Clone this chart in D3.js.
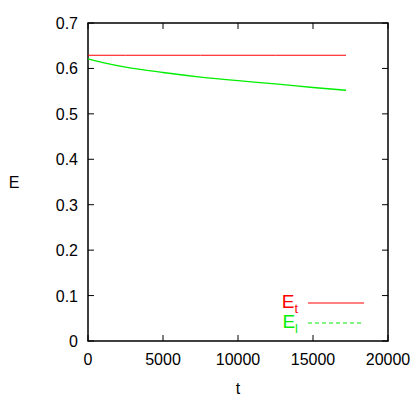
<!DOCTYPE html>
<html><head><meta charset="utf-8">
<script src="https://cdn.jsdelivr.net/npm/d3@7"></script>
<style>body{margin:0;background:#fff}text{font-family:"Liberation Sans",Arial,sans-serif}</style>
</head><body><svg id="c" width="420" height="400"></svg>
<script>
const tValues = [0, 1000, 2500, 5000, 7500, 10000, 12500, 15000, 17200];
const etValues = [0.629, 0.629, 0.629, 0.629, 0.629, 0.629, 0.629, 0.629, 0.629];
const elValues = [0.621, 0.613, 0.603, 0.591, 0.581, 0.573, 0.566, 0.558, 0.552];
const xTicks = [0, 5000, 10000, 15000, 20000];
const yTicks = [0, 0.1, 0.2, 0.3, 0.4, 0.5, 0.6, 0.7];

const svg = d3.select('#c');
const L = 88, R = 388, T = 23, B = 341;
const x = d3.scaleLinear().domain([0, 20000]).range([L, R]);
const y = d3.scaleLinear().domain([0, 0.7]).range([B, T]);

const g = svg.append('g');
xTicks.forEach(v => {
  g.append('line').attr('x1', x(v)).attr('x2', x(v)).attr('y1', B).attr('y2', B - 6).attr('stroke', '#000');
  g.append('line').attr('x1', x(v)).attr('x2', x(v)).attr('y1', T).attr('y2', T + 6).attr('stroke', '#000');
  g.append('text').attr('x', x(v)).attr('y', B + 24).attr('text-anchor', 'middle').attr('font-size', 16).text(v);
});
yTicks.forEach(v => {
  g.append('line').attr('x1', L).attr('x2', L + 6).attr('y1', y(v)).attr('y2', y(v)).attr('stroke', '#000');
  g.append('line').attr('x1', R).attr('x2', R - 6).attr('y1', y(v)).attr('y2', y(v)).attr('stroke', '#000');
  g.append('text').attr('x', L - 10).attr('y', y(v) + 6).attr('text-anchor', 'end').attr('font-size', 16).text(v === 0 ? '0' : d3.format('.1f')(v));
});
g.append('rect').attr('x', L).attr('y', T).attr('width', R - L).attr('height', B - T)
  .attr('fill', 'none').attr('stroke', '#000').attr('stroke-width', 1.5);

g.append('text').attr('x', (L + R) / 2).attr('y', 394).attr('text-anchor', 'middle').attr('font-size', 16).text('t');
g.append('text').attr('x', 14).attr('y', (T + B) / 2 + 6).attr('text-anchor', 'middle').attr('font-size', 16).text('E');

const line = d3.line().x(d => x(d[0])).y(d => y(d[1])).curve(d3.curveMonotoneX);
g.append('path').datum(tValues.map((t, i) => [t, etValues[i]])).attr('d', line)
  .attr('fill', 'none').attr('stroke', '#ff0000').attr('stroke-width', 1);
g.append('path').datum(tValues.map((t, i) => [t, elValues[i]])).attr('d', line)
  .attr('fill', 'none').attr('stroke', '#00ee00').attr('stroke-width', 1.3);

// legend
const lg = [['t', '#ff0000', null, 303], ['l', '#00ee00', '4,3', 323]];
lg.forEach(([s, c, dash, ly]) => {
  const tx = g.append('text').attr('x', 298).attr('y', ly + 5).attr('text-anchor', 'end').attr('font-size', 19).attr('fill', c);
  tx.append('tspan').text('E');
  tx.append('tspan').attr('font-size', 13).attr('dy', 5).text(s);
  g.append('line').attr('x1', 308).attr('x2', 364).attr('y1', ly).attr('y2', ly)
    .attr('stroke', c).attr('stroke-dasharray', dash);
});
</script></body></html>
